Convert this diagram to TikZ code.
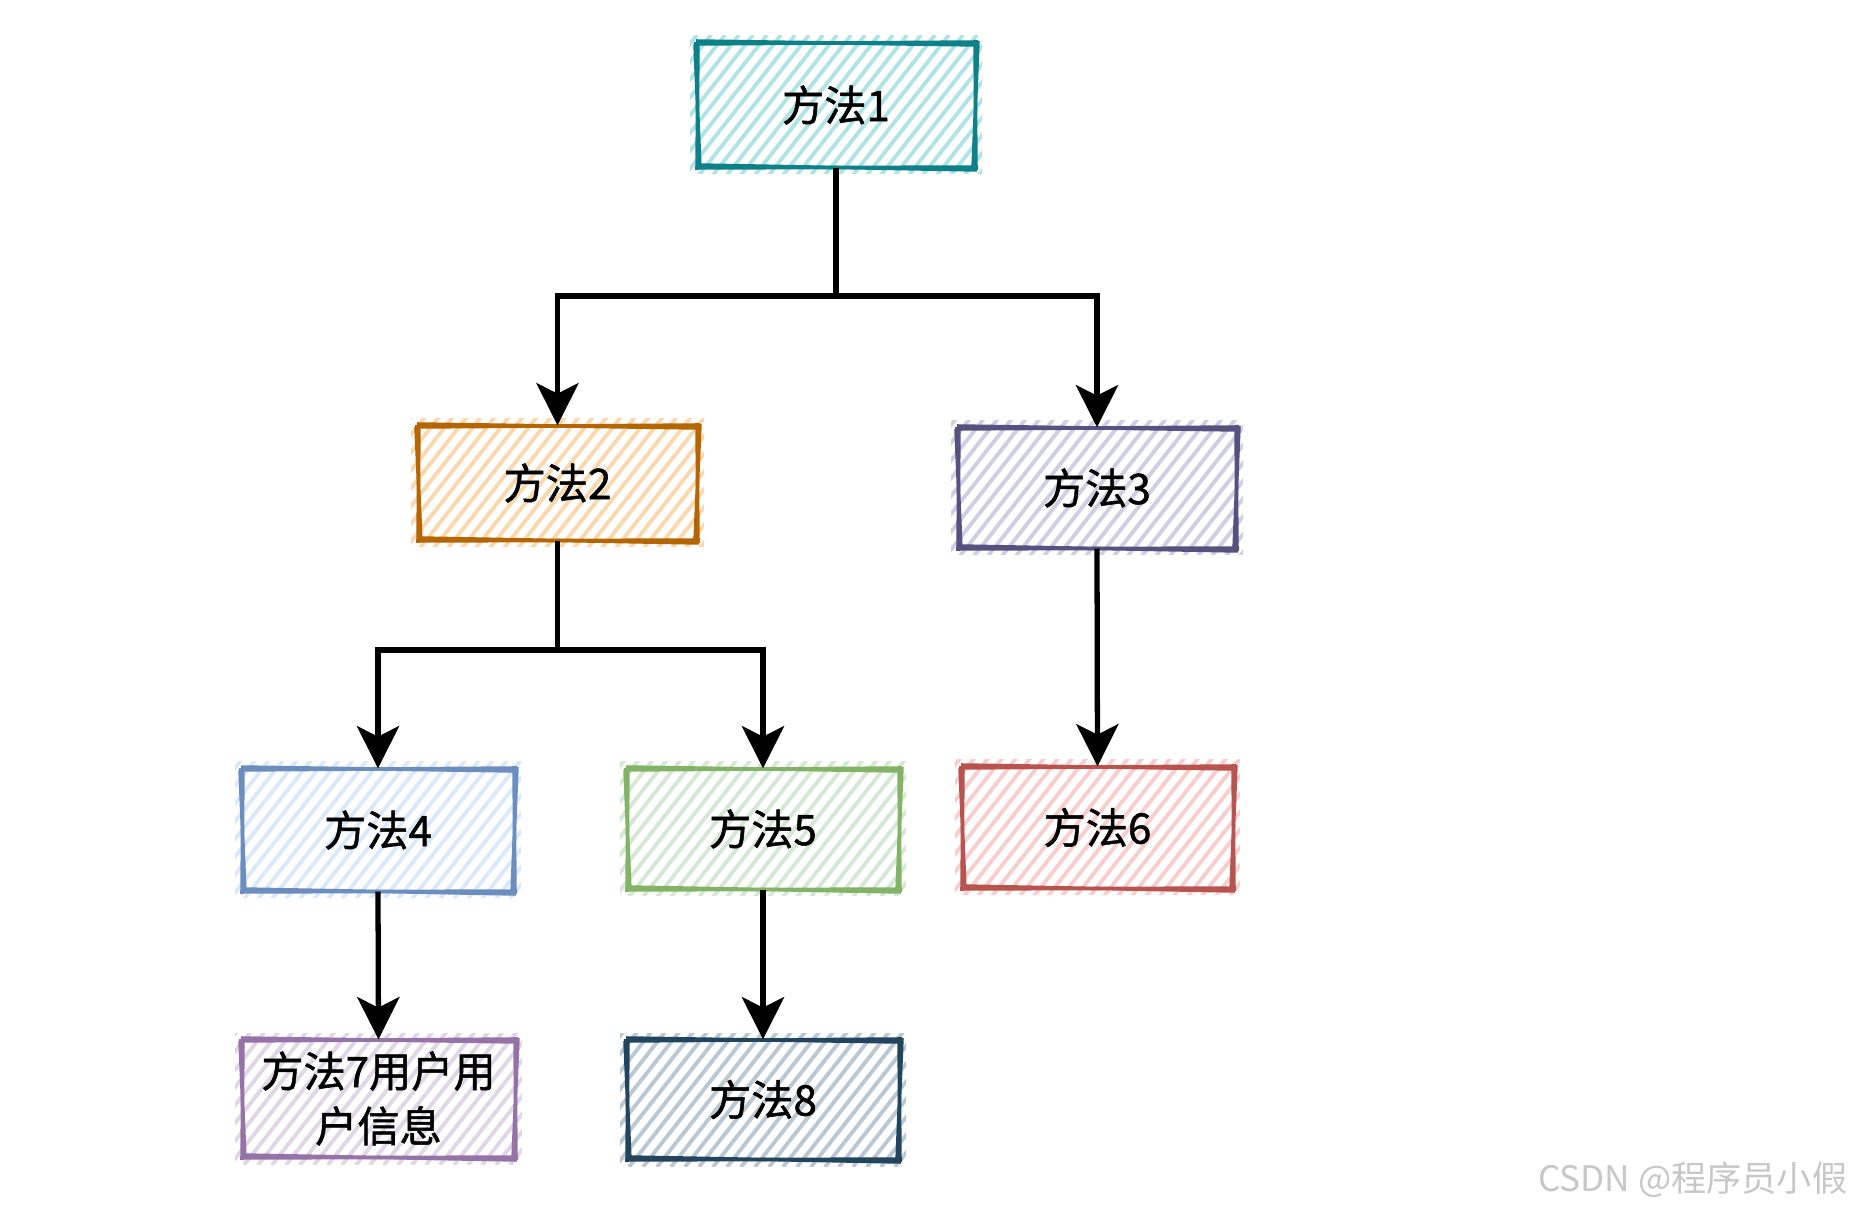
\documentclass[tikz,border=0pt]{standalone}
\usepackage{fontspec}
\newfontfamily\cjk{Noto Sans CJK SC}
\newfontfamily\cjkb[FakeBold=1.2]{Noto Sans CJK SC}
\usetikzlibrary{arrows.meta,backgrounds,calc}
\definecolor{s1}{HTML}{0E8088}\definecolor{f1}{HTML}{B0E3E6}
\definecolor{s2}{HTML}{B46504}\definecolor{f2}{HTML}{FAD7AC}
\definecolor{s3}{HTML}{56517E}\definecolor{f3}{HTML}{D0CEE2}
\definecolor{s4}{HTML}{6C8EBF}\definecolor{f4}{HTML}{DAE8FC}
\definecolor{s5}{HTML}{82B366}\definecolor{f5}{HTML}{D5E8D4}
\definecolor{s6}{HTML}{B85450}\definecolor{f6}{HTML}{F8CECC}
\definecolor{s7}{HTML}{9673A6}\definecolor{f7}{HTML}{E1D5E7}
\definecolor{s8}{HTML}{23445D}\definecolor{f8}{HTML}{BAC8D3}
\tikzset{
  conn/.style={line width=1.5pt,-{Stealth[length=12pt,width=12pt,inset=3pt]}},
  plain/.style={line width=1.5pt},
  hatch/.style={line width=1.1pt},
  border/.style={line width=1pt},
  lbl/.style={font=\cjkb\fontsize{12pt}{15.6pt}\selectfont,align=center,text=black,inner sep=0pt}
}
% name, x1, y1, x2, y2, stroke, fill, text
\newcommand\skbox[8]{%
  \begin{pgfonlayer}{background}
  \begin{scope}
    \clip (#2-7,#3-7) rectangle (#4+7,#5+7);
    \foreach \k in {-110,-96,...,300}{
      \draw[hatch,#7] (#2+\k,#5+8) -- ++(110,-140);
    }
  \end{scope}
  \end{pgfonlayer}
  \draw[border,#6] (#2-3,#3+1) -- (#4+3,#3-1)
                   (#4,#3-3) -- (#4+1,#5+3)
                   (#4+3,#5) -- (#2-2,#5+1)
                   (#2,#5+3) -- (#2+1,#3-3);
  \draw[border,#6] (#2-1,#3-2) -- (#4+2,#3+2)
                   (#4+3,#3-2) -- (#4-2,#5+2)
                   (#4+2,#5+3) -- (#2+1,#5-2)
                   (#2+3,#5+2) -- (#2-2,#3+1);
  \node[lbl,name=#1,minimum width={(#4-#2)*0.01cm},minimum height={(#5-#3)*0.01cm}] at ({(#2+#4)/2},{(#3+#5)/2}) {#8};
}
\begin{document}
\begin{tikzpicture}[x=0.01cm,y=-0.01cm]
\useasboundingbox (0,0) rectangle (1854,1213);
\skbox{n1}{697}{43}{975}{167}{s1}{f1}{方法1}
\skbox{n2}{418}{426}{697}{540}{s2}{f2}{方法2}
\skbox{n3}{958}{428}{1236}{548}{s3}{f3}{方法3}
\skbox{n4}{242}{769}{514}{891}{s4}{f4}{方法4}
\skbox{n5}{627}{769}{899}{889}{s5}{f5}{方法5}
\skbox{n6}{962}{767}{1233}{888}{s6}{f6}{方法6}
\skbox{n7}{242}{1040}{515}{1157}{s7}{f7}{方法7用户用\\户信息}
\skbox{n8}{627}{1040}{899}{1159}{s8}{f8}{方法8}
\coordinate (j1) at (836,296);
\coordinate (j2) at (557,650);
\draw[plain] (n1.south) -- (n1.south |- j1);
\draw[conn] (n1.south |- j1) -| (n2.north);
\draw[conn] (n1.south |- j1) -| (n3.north);
\draw[plain] (n2.south) -- (n2.south |- j2);
\draw[conn] (n2.south |- j2) -| (n4.north);
\draw[conn] (n2.south |- j2) -| (n5.north);
\draw[conn] (n3.south) -- (n6.north);
\draw[conn] (n4.south) -- (n7.north);
\draw[conn] (n5.south) -- (n8.north);
\node[anchor=east,text=black!22,font=\cjk\fontsize{10pt}{12pt}\selectfont,inner sep=0pt] (wm) at (1848,1180) {CSDN @程序员小假};
\end{tikzpicture}
\end{document}
